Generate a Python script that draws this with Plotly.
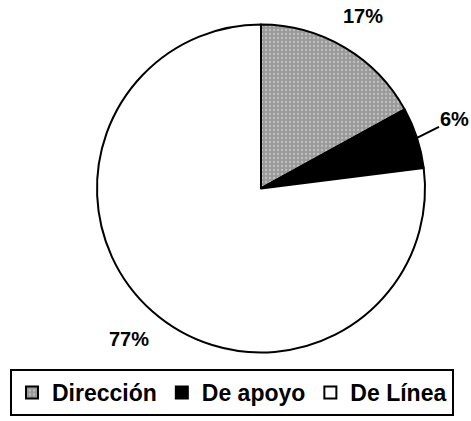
import math
import plotly.graph_objects as go

categories = ["Dirección", "De apoyo", "De Línea"]
values = [17, 6, 77]
colors = ["#9a9a9a", "#000000", "#ffffff"]

W, H = 471, 421
CX, CY, R = 261, 188.5, 164  # pie centre and radius in pixels

fig = go.Figure(go.Pie(
    labels=categories,
    values=values,
    sort=False,
    direction="clockwise",
    rotation=0,
    marker=dict(colors=colors, line=dict(color="black", width=2),
                pattern=dict(shape=[".", "", ""], fillmode="overlay",
                             fgcolor="#e6e6e6", size=4, solidity=0.25)),
    textinfo="none",
    domain=dict(x=[(CX - R) / W, (CX + R) / W], y=[1 - (CY + R) / H, 1 - (CY - R) / H]),
    hoverinfo="label+percent",
))

# percentage labels placed along each slice's mid-angle
total = sum(values)
cum = 0
font = dict(family="Liberation Sans, Arial", size=20, color="black", weight="bold")
for v in values:
    mid = 2 * math.pi * (cum + v / 2) / total
    cum += v
    pct = f"{round(100 * v / total)}%"
    if v / total < 0.1:
        # small slice: label with leader line
        ex, ey = CX + R * math.sin(mid), CY - R * math.cos(mid)
        fig.add_annotation(x=ex / W, y=1 - ey / H, xref="paper", yref="paper",
                           text=pct, showarrow=True, arrowhead=0, arrowwidth=2,
                           arrowcolor="black", ax=38, ay=-19, font=font, standoff=0)
    else:
        k = 1.22
        lx, ly = CX + k * R * math.sin(mid), CY - k * R * math.cos(mid)
        fig.add_annotation(x=lx / W, y=1 - ly / H, xref="paper", yref="paper",
                           xanchor="center", yanchor="middle",
                           text=pct, showarrow=False, font=font)

fig.update_layout(
    width=W, height=H,
    margin=dict(l=0, r=0, t=0, b=0),
    paper_bgcolor="white",
    showlegend=True,
    legend=dict(orientation="h", x=232 / W, y=1 - 392.5 / H, xanchor="center", yanchor="middle",
                bordercolor="black", borderwidth=2,
                font=dict(family="Liberation Sans, Arial", size=23, color="black", weight="bold"),
                itemwidth=30, traceorder="normal"),
)

fig.write_html("out.html", config={"displayModeBar": False},
               post_script="document.body.style.margin='0';")
